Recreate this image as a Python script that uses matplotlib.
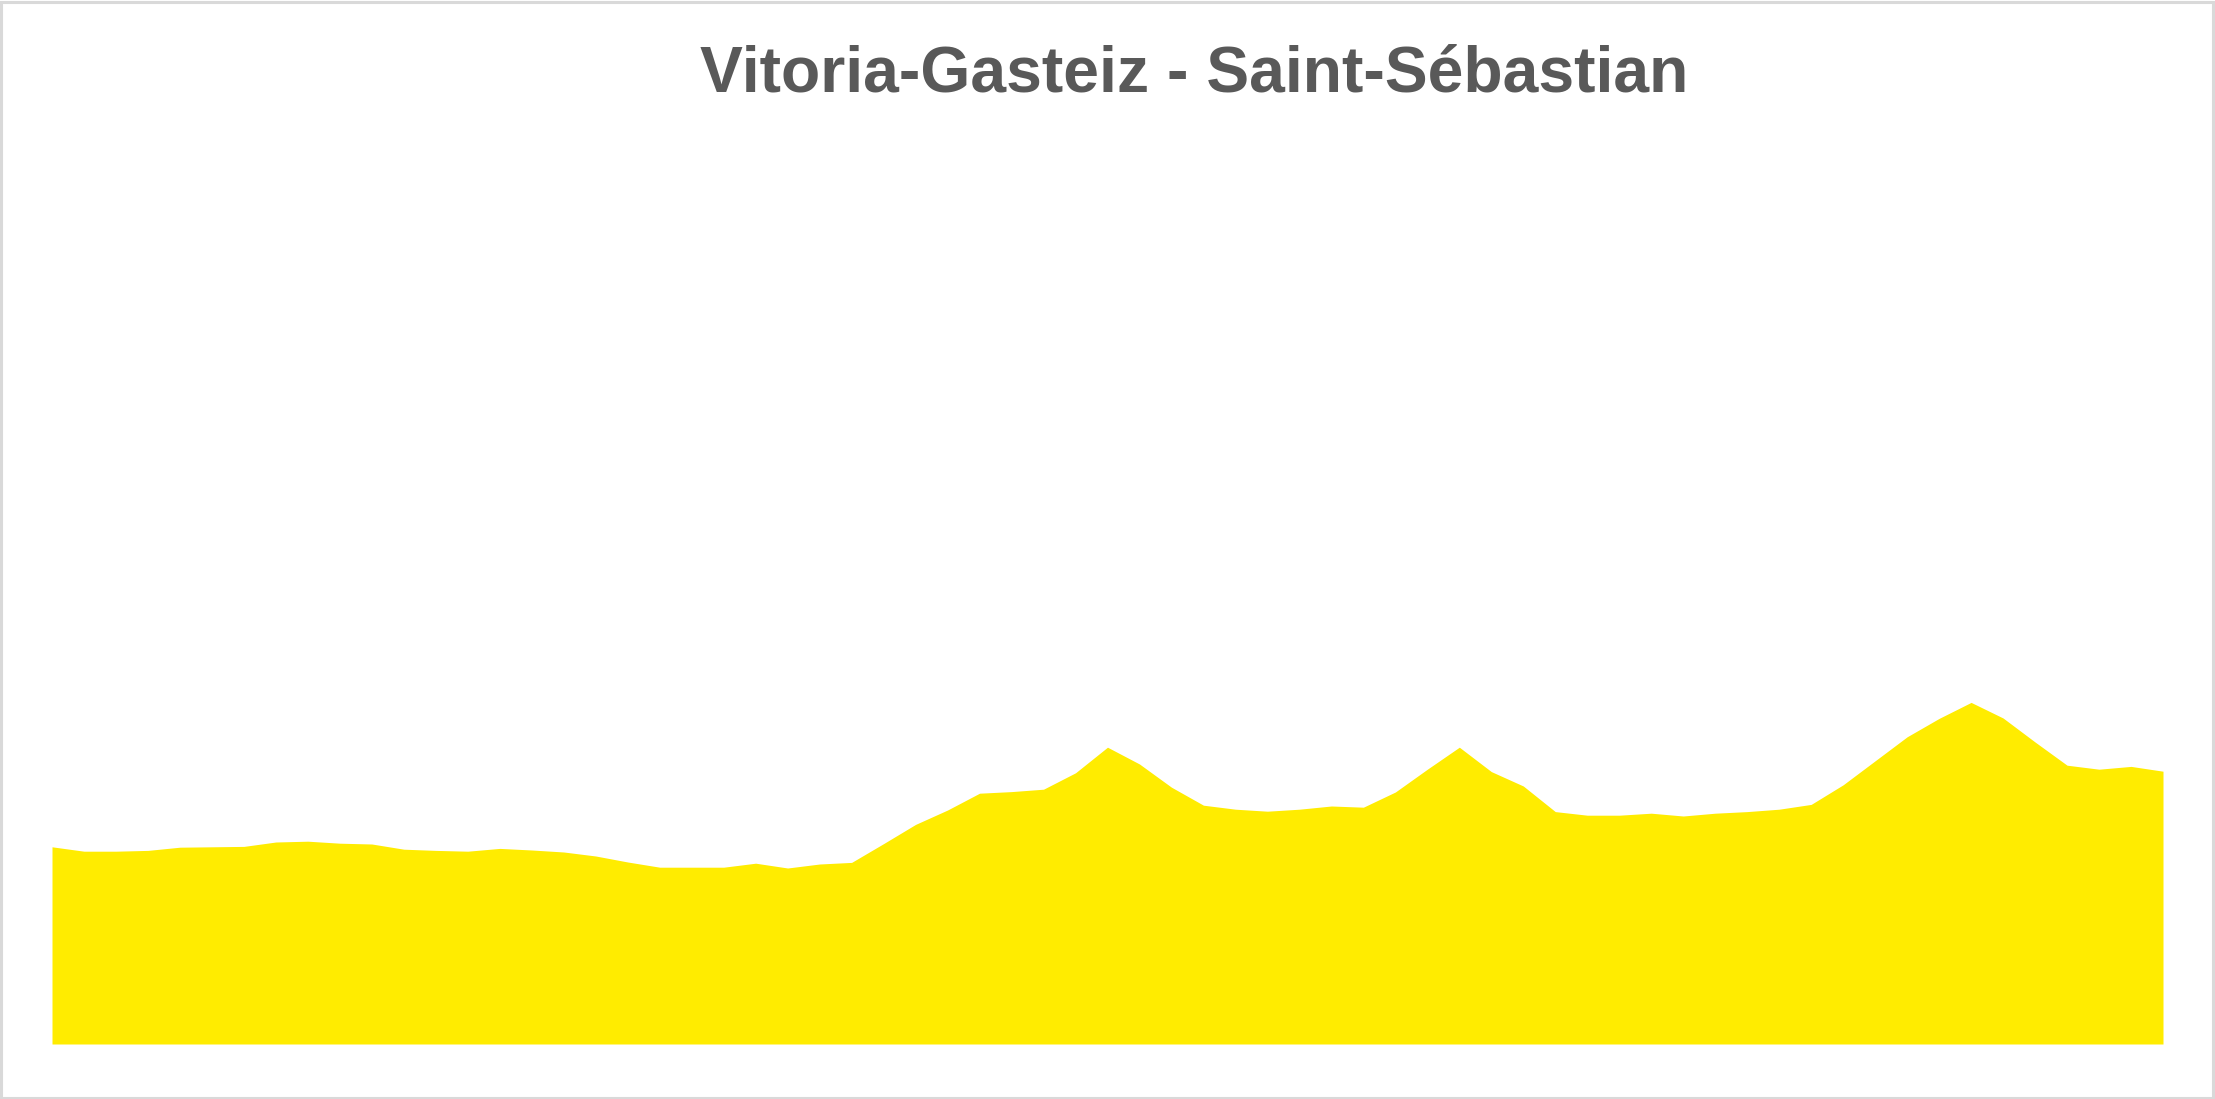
import numpy as np
import matplotlib
matplotlib.use("Agg")
import matplotlib.pyplot as plt
from matplotlib.patches import Rectangle

title = "Vitoria-Gasteiz - Saint-Sébastian"

# elevation profile (m), evenly spaced samples
elevation = [493, 482, 482, 484, 492, 493, 494, 505, 507, 502,
             500, 487, 484, 482, 489, 485, 480, 470, 455, 442,
             442, 442, 452, 440, 450, 454, 501, 549, 585, 627,
             631, 637, 678, 742, 700, 642, 597, 587, 582, 587,
             595, 592, 630, 687, 742, 681, 645, 581, 572, 572,
             577, 570, 577, 581, 587, 599, 648, 708, 768, 814,
             854, 815, 755, 697, 687, 694, 682]

W, H = 2215, 1099
fig = plt.figure(figsize=(W / 100, H / 100), dpi=100)
fig.patch.set_facecolor("white")

x = np.arange(len(elevation))
ax = fig.add_axes([52 / W, (H - 1044) / H, (2163 - 52) / W, 1000 / H])
ax.fill_between(x, 0, elevation, color="#FFEC00", linewidth=0)
ax.set_xlim(x[0], x[-1])
ax.set_ylim(0, 2500)
ax.axis("off")

fig.text(1194 / W, 1 - 74 / H, title, ha="center", va="center",
         fontsize=46.3, fontweight="bold", color="#595959",
         family="Liberation Sans")

fig.patches.append(Rectangle((1 / W, 1 / H), (W - 3) / W, (H - 3) / H,
                             transform=fig.transFigure, fill=False,
                             edgecolor="#d9d9d9", linewidth=2.2))

fig.savefig("out.png", dpi=100, facecolor="white")
